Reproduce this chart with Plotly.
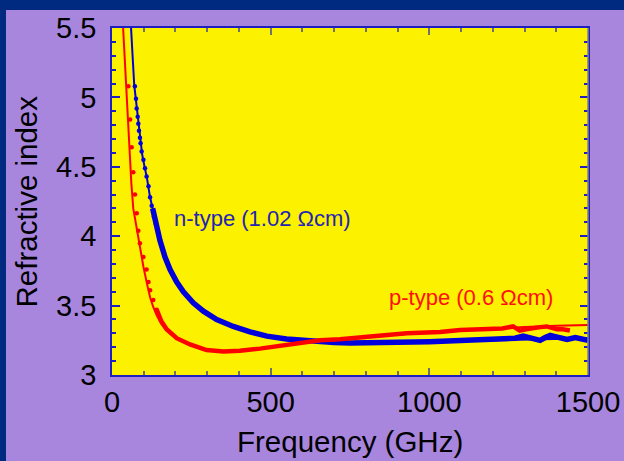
import plotly.graph_objects as go

# ---- n-type silicon (1.02 Ohm cm) ----
# model curve
n_fit_f = [60, 63, 66, 70, 75, 80, 85, 90, 95, 100, 110, 120, 135, 150, 167, 183, 204, 225,
           256, 288, 330, 382, 435, 488, 550, 645, 750, 900, 1050, 1200, 1350, 1500]
n_fit_n = [5.50, 5.35, 5.22, 5.09, 4.99, 4.88, 4.77, 4.67, 4.59, 4.53, 4.42, 4.28, 4.12, 3.98,
           3.85, 3.76, 3.67, 3.60, 3.52, 3.46, 3.40, 3.35, 3.31, 3.28, 3.26, 3.24, 3.235, 3.235,
           3.24, 3.25, 3.26, 3.265]
# measured points, low-frequency end
n_pts_f = [72, 75.6, 77.7, 81, 83, 85, 88, 90, 93.5, 99, 104, 109, 115, 120, 125, 132, 138, 145]
n_pts_n = [5.08, 4.99, 4.92, 4.86, 4.81, 4.76, 4.71, 4.67, 4.61, 4.55, 4.49, 4.43, 4.36, 4.28,
           4.22, 4.14, 4.09, 4.03]
# measured points, dense band
n_meas_f = [128, 135, 151, 167, 183, 204, 225, 256, 288, 330, 382, 435, 488, 550, 600, 645, 700,
            750, 800, 850, 900, 950, 1000, 1050, 1100, 1150, 1200, 1240, 1270, 1296, 1320, 1349,
            1365, 1381, 1400, 1420, 1434, 1460, 1480, 1500]
n_meas_n = [4.20, 4.12, 3.97, 3.85, 3.76, 3.67, 3.60, 3.52, 3.46, 3.40, 3.35, 3.31, 3.28, 3.26,
            3.25, 3.24, 3.235, 3.23, 3.23, 3.23, 3.235, 3.237, 3.24, 3.245, 3.245, 3.25, 3.255,
            3.26, 3.265, 3.28, 3.27, 3.25, 3.27, 3.285, 3.275, 3.265, 3.257, 3.27, 3.265, 3.25]

# ---- p-type silicon (0.6 Ohm cm) ----
p_fit_f = [35, 40, 44, 50, 55, 61, 67, 75, 83, 91, 99, 110, 120, 130, 141, 155, 172, 204, 246,
           298, 351, 403, 466, 529, 593, 656, 729, 800, 900, 1000, 1100, 1200, 1300, 1400, 1500]
p_fit_n = [5.50, 5.28, 5.08, 4.82, 4.60, 4.38, 4.20, 4.09, 3.99, 3.88, 3.78, 3.66, 3.56, 3.49,
           3.43, 3.37, 3.32, 3.26, 3.22, 3.18, 3.17, 3.175, 3.19, 3.21, 3.23, 3.25, 3.26, 3.275,
           3.29, 3.31, 3.32, 3.335, 3.345, 3.355, 3.36]
p_pts_f = [51.5, 57, 62, 67, 72.5, 78, 83, 88, 99, 109, 115, 120, 130, 141]
p_pts_n = [5.08, 4.84, 4.64, 4.46, 4.30, 4.165, 4.04, 3.95, 3.85, 3.76, 3.67, 3.61, 3.54, 3.47]
p_meas_f = [141, 155, 172, 204, 246, 298, 351, 403, 466, 529, 593, 656, 718, 770, 824, 876, 929,
            980, 1034, 1097, 1150, 1191, 1230, 1264, 1285, 1305, 1328, 1350, 1370, 1385, 1402,
            1420, 1443]
p_meas_n = [3.47, 3.39, 3.33, 3.265, 3.22, 3.18, 3.17, 3.175, 3.19, 3.21, 3.23, 3.25, 3.257,
            3.27, 3.28, 3.29, 3.30, 3.305, 3.31, 3.325, 3.33, 3.33, 3.335, 3.35, 3.32, 3.33,
            3.34, 3.345, 3.35, 3.34, 3.33, 3.33, 3.32]

x_ticks = [0, 500, 1000, 1500]
y_ticks = [3, 3.5, 4, 4.5, 5, 5.5]
y_tick_text = ["3", "3.5", "4", "4.5", "5", "5.5"]

BLUE = "#0000DD"
RED = "#FF0000"
FONT = "Liberation Sans, Arial, sans-serif"

fig = go.Figure()

# n-type traces
fig.add_trace(go.Scatter(x=n_meas_f, y=n_meas_n, mode="lines",
                         line=dict(color=BLUE, width=5.5), hoverinfo="skip"))
fig.add_trace(go.Scatter(x=n_pts_f, y=n_pts_n, mode="markers",
                         marker=dict(color=BLUE, size=4.5), hoverinfo="skip"))
fig.add_trace(go.Scatter(x=n_fit_f, y=n_fit_n, mode="lines",
                         line=dict(color=BLUE, width=2), hoverinfo="skip"))

# p-type traces
fig.add_trace(go.Scatter(x=p_meas_f, y=p_meas_n, mode="lines",
                         line=dict(color=RED, width=4.5), hoverinfo="skip"))
fig.add_trace(go.Scatter(x=p_pts_f, y=p_pts_n, mode="markers",
                         marker=dict(color=RED, size=4.5), hoverinfo="skip"))
fig.add_trace(go.Scatter(x=p_fit_f, y=p_fit_n, mode="lines",
                         line=dict(color=RED, width=2), hoverinfo="skip"))

fig.update_layout(
    width=624, height=461,
    margin=dict(l=112, r=36, t=28, b=86, autoexpand=False),
    paper_bgcolor="#A886DE",
    plot_bgcolor="#FCF200",
    showlegend=False,
    font=dict(family=FONT, size=29, color="black"),
    xaxis=dict(
        range=[0, 1500], tickvals=x_ticks, ticks="inside", ticklen=7,
        tickcolor="#707070", tickwidth=1.5, showgrid=False, zeroline=False,
        showline=True, linecolor="#2020C0", linewidth=1.5, mirror="ticks",
        ticklabelstandoff=0, automargin=False,
        minor=dict(dtick=100, ticks="inside", ticklen=4, tickcolor="#707070", tickwidth=1.5),
    ),
    yaxis=dict(
        range=[3, 5.5], tickvals=y_ticks, ticktext=y_tick_text, ticks="inside", ticklen=8,
        tickcolor="#2020C0", tickwidth=1.5, showgrid=False, zeroline=False,
        showline=True, linecolor="#2020C0", linewidth=1.5, mirror="ticks",
        ticklabelstandoff=8, automargin=False,
        minor=dict(dtick=0.1, ticks="inside", ticklen=4, tickcolor="#2020C0", tickwidth=1.5),
    ),
    shapes=[
        # dark frame along top and left edges of the page
        dict(type="rect", xref="paper", yref="paper", x0=-0.2353, x1=1.0757,
             y0=1.0519, y1=1.0807, fillcolor="#002A80", line=dict(width=0), layer="above"),
        dict(type="rect", xref="paper", yref="paper", x0=-0.2353, x1=-0.2227,
             y0=-0.2479, y1=1.0807, fillcolor="#002A80", line=dict(width=0), layer="above"),
        # grey right edge of the plot frame
        dict(type="line", xref="paper", yref="paper", x0=1, x1=1, y0=0, y1=1,
             line=dict(color="#808080", width=1.5), layer="above"),
    ],
    annotations=[
        dict(text="n-type (1.02 \u03a9cm)", x=189, y=4.13, xref="x", yref="y",
             xanchor="left", yanchor="middle", showarrow=False,
             font=dict(family=FONT, size=22, color="#2424B4")),
        dict(text="p-type (0.6 \u03a9cm)", x=867, y=3.56, xref="x", yref="y",
             xanchor="left", yanchor="middle", showarrow=False,
             font=dict(family=FONT, size=22, color="#FF1010")),
        dict(text="Frequency (GHz)", x=0.5, y=-0.192, xref="paper", yref="paper",
             xanchor="center", yanchor="middle", showarrow=False,
             font=dict(family=FONT, size=29.5, color="black")),
        dict(text="Refractive index", x=-0.1786, y=0.5, xref="paper", yref="paper",
             xanchor="center", yanchor="middle", textangle=-90, showarrow=False,
             font=dict(family=FONT, size=29.5, color="black")),
    ],
)

fig.write_html("out.html")
